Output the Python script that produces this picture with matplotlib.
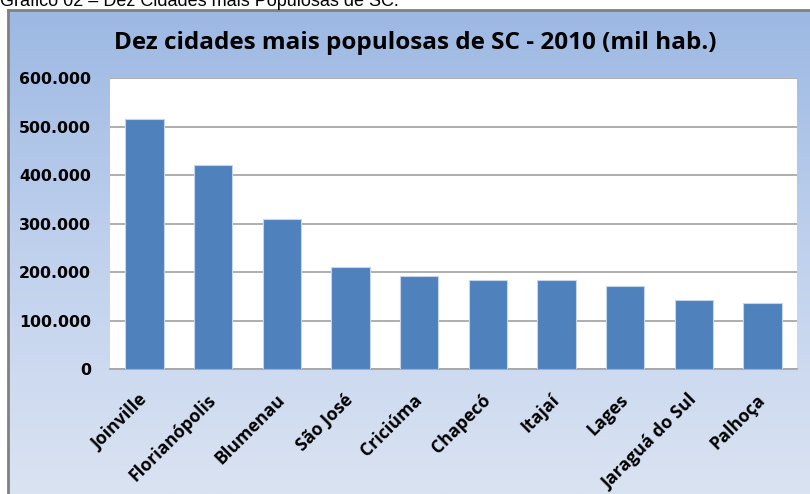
import numpy as np
import matplotlib.pyplot as plt
from matplotlib.colors import LinearSegmentedColormap
from matplotlib.ticker import FuncFormatter

# data
cidades = ['Joinville', 'Florianópolis', 'Blumenau', 'São José', 'Criciúma',
           'Chapecó', 'Itajaí', 'Lages', 'Jaraguá do Sul', 'Palhoça']
populacao = [515288, 421240, 309011, 210000, 192308,
             183530, 183373, 171000, 143123, 137334]
yticks = [0, 100000, 200000, 300000, 400000, 500000, 600000]

W, H = 810, 494
fig = plt.figure(figsize=(W / 100, H / 100), dpi=100)
fig.patch.set_facecolor('white')

# chart area with vertical gradient (Excel-style)
x0, y0 = 8, 10
bg = fig.add_axes([x0 / W, 0, 1 - x0 / W, 1 - y0 / H])
grad = np.linspace(0, 1, 256).reshape(-1, 1)
cmap = LinearSegmentedColormap.from_list('g', ['#9cb8e3', '#c0d1ed', '#dae3f2'])
bg.imshow(grad, aspect='auto', cmap=cmap, extent=[0, 1, 0, 1], origin='upper')
bg.set_xticks([])
bg.set_yticks([])
for s in ['right', 'bottom']:
    bg.spines[s].set_visible(False)
for s in ['left', 'top']:
    bg.spines[s].set_color('#808080')
    bg.spines[s].set_linewidth(2)

# caption cut off at the top of the picture
fig.text(0 / W, 1 - 5.5 / H, 'Gráfico 02 – Dez Cidades mais Populosas de SC.',
         fontsize=13, family='Liberation Sans', va='baseline', ha='left')

# plot area
left, right, top, bottom = 110, 797, 78.3, 369.3
ax = fig.add_axes([left / W, 1 - bottom / H, (right - left) / W, (bottom - top) / H])
ax.set_facecolor('white')
xs = np.arange(len(cidades))
ax.bar(xs, populacao, width=0.56, color='#4f81bd', edgecolor='#c5d5ea', linewidth=0.8, zorder=3)
ax.set_xlim(-0.5, len(cidades) - 0.5)
ax.set_ylim(0, 600000)
ax.set_yticks(yticks)
ax.yaxis.set_major_formatter(FuncFormatter(lambda v, p: '0' if v == 0 else f'{int(v):,}'.replace(',', '.')))
ax.grid(axis='y', color='#a8a8a8', lw=1.3, zorder=0)
ax.tick_params(axis='y', length=0, labelsize=11.3, pad=13.5)
ax.tick_params(axis='x', length=0, pad=20)
for lab in ax.get_yticklabels():
    lab.set_fontweight('bold')
ax.set_xticks(xs)
ax.set_xticklabels(cidades, rotation=45, ha='right', va='center', rotation_mode='anchor',
                   fontsize=12.8, fontweight='bold', family='Open Sans')
for s in ['left', 'right', 'top']:
    ax.spines[s].set_visible(False)
ax.spines['bottom'].set_color('#a8a8a8')
ax.spines['bottom'].set_linewidth(1.3)

fig.text(415 / W, 1 - 43 / H, 'Dez cidades mais populosas de SC - 2010 (mil hab.)',
         fontsize=17.5, fontweight='bold', family='Open Sans', ha='center', va='center')

fig.savefig('out.png', dpi=100)
